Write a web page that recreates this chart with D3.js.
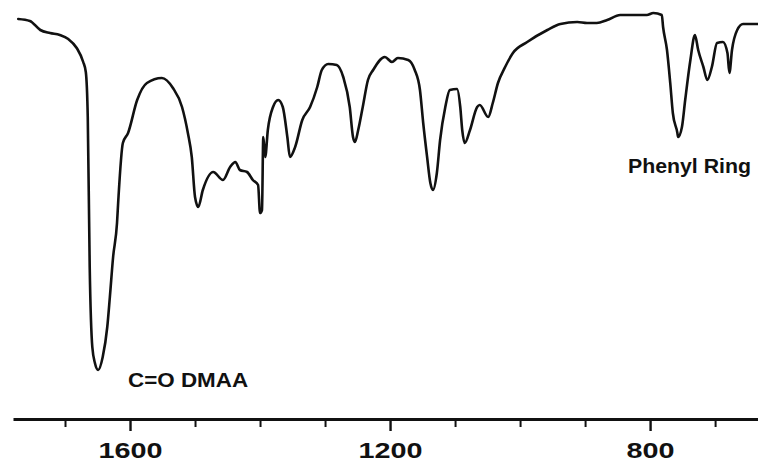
<!DOCTYPE html>
<html>
<head>
<meta charset="utf-8">
<script src="https://cdn.jsdelivr.net/npm/d3@7"></script>
<style>
  html, body { margin: 0; padding: 0; background: #fff; }
  svg { display: block; }
  text { font-family: Arial, "Liberation Sans", sans-serif; font-weight: bold; fill: #111; }
</style>
</head>
<body>
<svg id="chart" width="758" height="463"></svg>
<script>
// Wavenumber (cm^-1) and transmittance (%)
const wavenumbers = [1772,1754,1738,1723,1708,1695,1682,1672,1668,1665,1662,1658,1654,1649,1642,1635,1631,1626,1620,1618,1611,1603,1589,1574,1551,1534,1520,1511,1505,1500,1495,1488,1472,1457,1446,1438,1431,1420,1411,1403,1400,1397,1395,1392,1388,1380,1372,1365,1358,1354,1346,1335,1323,1312,1305,1295,1282,1272,1262,1257,1254,1249,1242,1234,1226,1208,1197,1188,1172,1162,1154,1149,1143,1138,1134,1128,1123,1115,1108,1097,1092,1089,1085,1077,1066,1062,1049,1042,1034,1023,1011,989,958,938,912,897,882,866,846,805,795,782,780,774,769,765,758,757,751,746,738,731,726,718,712,705,697,688,681,678,674,666,657,634];
const transmittance = [95.25,94.75,92.5,91.75,91.25,90.25,88,84.5,82,70.75,33.25,13.25,9.25,7.5,10.75,18.25,25.75,35.75,44.25,50,64.25,66.75,75,79.25,80.5,78,73.25,66.75,60.75,50.75,48.25,52.5,57,55,58.25,59.5,57.5,57,55,53.75,46.75,47.5,65.75,60.75,67.5,73.25,75,73.25,65.75,60.75,63.25,70,73.25,78.25,82.5,84,83.75,80.75,73.25,65.75,64.5,67.5,73.25,80,82.5,85.75,84.5,85.5,85,82.5,77.5,69.25,60.75,54.25,52.5,56.75,65,73.25,77.5,77.75,73.25,67.5,64.25,67.5,73.25,73.75,70.75,74.25,79.25,83.25,86.75,89.5,92.5,94,94.5,94.25,94.25,95,96.25,96.25,96.75,96.25,93.25,87.5,79.25,71.75,66.75,65.75,68.25,75,85,91.25,87.5,83.25,80,83.25,89.25,89.5,86.75,81.75,87.5,92.5,94,94];

const majorTicks = [1600, 1200, 800];
const minorTicks = [1700, 1500, 1400, 1300, 1100, 1000, 900, 700];

const annotationText = ["C=O DMAA", "Phenyl Ring"];
const annotationWavenumber = [1603, 834];
const annotationTransmittance = [3.25, 56.75];

const svg = d3.select("#chart");

const x = d3.scaleLinear().domain([1780, 634]).range([13, 758]);
const y = d3.scaleLinear().domain([0, 100]).range([400, 0]);

const data = wavenumbers.map((w, i) => ({ w, t: transmittance[i] }));

// spectrum line
const line = d3.line()
  .x(d => x(d.w))
  .y(d => y(d.t))
  .curve(d3.curveMonotoneX);

svg.append("path")
  .datum(data)
  .attr("fill", "none")
  .attr("stroke", "#111")
  .attr("stroke-width", 2.6)
  .attr("stroke-linejoin", "round")
  .attr("stroke-linecap", "round")
  .attr("d", line);

// minor ticks
const minorAxis = d3.axisBottom(x)
  .tickValues(minorTicks)
  .tickSize(8)
  .tickSizeOuter(0)
  .tickFormat("");
const gMinor = svg.append("g")
  .attr("transform", "translate(0,419)")
  .call(minorAxis);
gMinor.select(".domain").remove();
gMinor.selectAll(".tick line").attr("stroke", "#111").attr("stroke-width", 2);

// major axis
const majorAxis = d3.axisBottom(x)
  .tickValues(majorTicks)
  .tickSize(12)
  .tickSizeOuter(0)
  .tickPadding(15)
  .tickFormat(d3.format("d"));
const gMajor = svg.append("g")
  .attr("transform", "translate(0,419)")
  .call(majorAxis);
gMajor.select(".domain").attr("stroke", "#111").attr("stroke-width", 2.8);
gMajor.selectAll(".tick line").attr("stroke", "#111").attr("stroke-width", 2.4);
gMajor.selectAll(".tick text")
  .attr("fill", "#111")
  .attr("font-size", "21.5px")
  .attr("font-weight", "bold")
  .attr("font-family", "Arial, 'Liberation Sans', sans-serif")
  .attr("dy", null)
  .attr("y", 39)
  .attr("textLength", 64)
  .attr("lengthAdjust", "spacingAndGlyphs")
  .each(function(d) {
    if (d === 800) d3.select(this).attr("textLength", 48);
  });

// annotations
svg.selectAll("text.annot")
  .data(annotationText)
  .enter()
  .append("text")
  .attr("class", "annot")
  .attr("x", (d, i) => x(annotationWavenumber[i]))
  .attr("y", (d, i) => y(annotationTransmittance[i]))
  .attr("font-size", (d, i) => i === 0 ? "20px" : "21px")
  .attr("textLength", (d, i) => i === 0 ? 120 : 123)
  .attr("lengthAdjust", "spacingAndGlyphs")
  .text(d => d);
</script>
</body>
</html>
